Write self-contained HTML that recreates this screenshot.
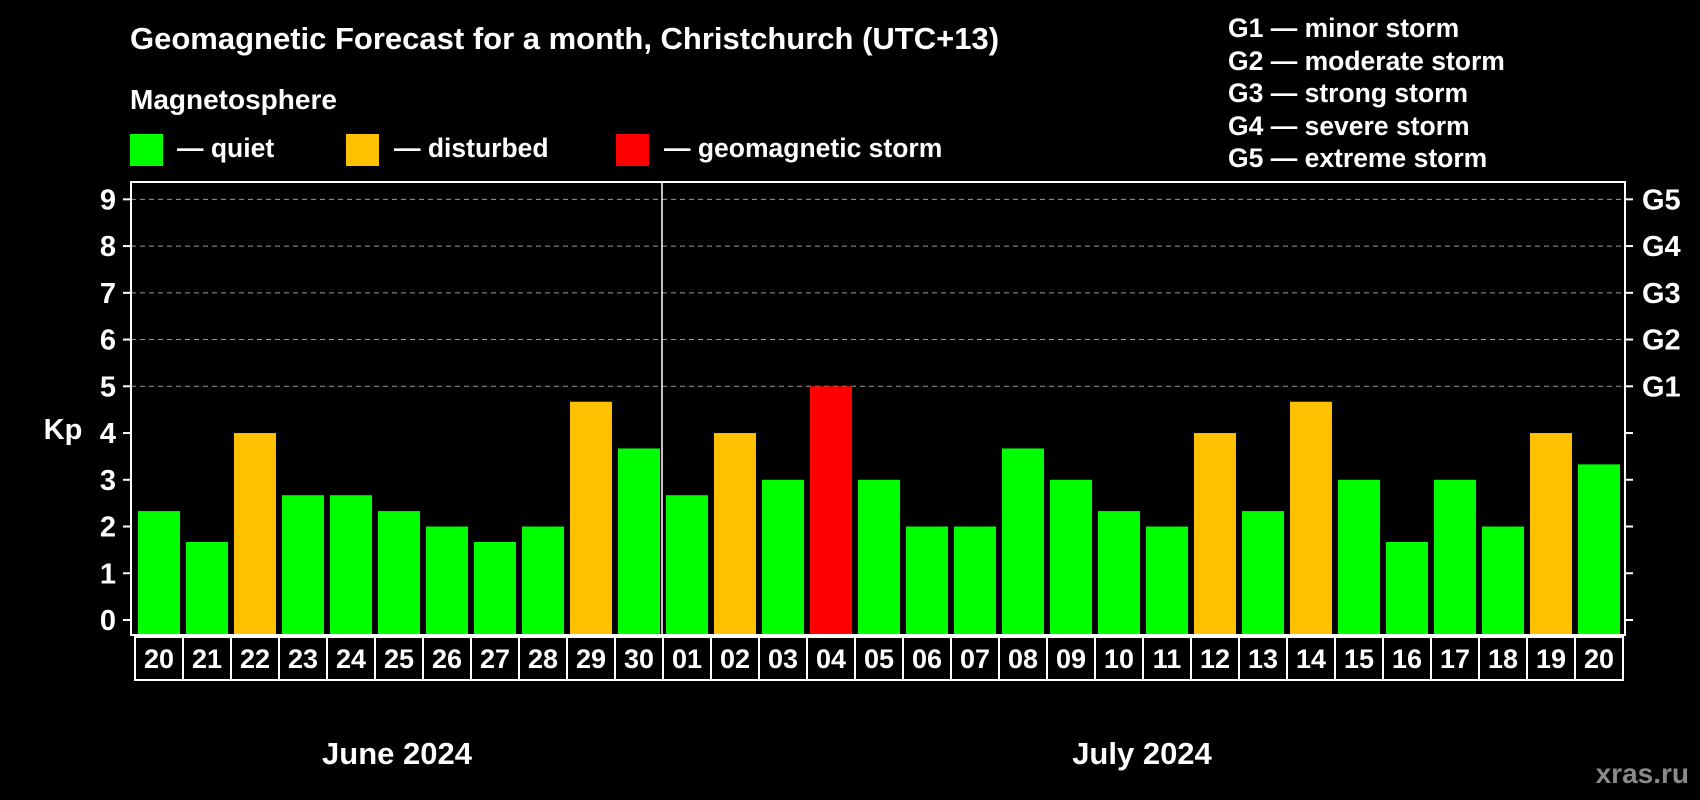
<!DOCTYPE html>
<html><head><meta charset="utf-8"><style>
html,body{margin:0;padding:0;background:#000;}
svg{display:block;font-family:"Liberation Sans",Arial,sans-serif;font-weight:bold;}
</style></head><body>
<svg id="c" width="1700" height="800" viewBox="0 0 1700 800">
<text x="130" y="49" fill="#fff" font-size="31">Geomagnetic Forecast for a month, Christchurch (UTC+13)</text>
<text x="130" y="109" fill="#fff" font-size="28">Magnetosphere</text>
<g>
<rect x="130" y="134" width="33" height="32" fill="#00ff00"/>
<text x="177" y="157" fill="#fff" font-size="26.5">— quiet</text>
<rect x="346" y="134" width="33" height="32" fill="#ffc000"/>
<text x="394" y="157" fill="#fff" font-size="26.5">— disturbed</text>
<rect x="616" y="134" width="33" height="32" fill="#ff0000"/>
<text x="664" y="157" fill="#fff" font-size="26.5">— geomagnetic storm</text>
</g>
<g fill="#fff" font-size="26.5">
<text x="1228" y="37">G1 — minor storm</text>
<text x="1228" y="70">G2 — moderate storm</text>
<text x="1228" y="102">G3 — strong storm</text>
<text x="1228" y="135">G4 — severe storm</text>
<text x="1228" y="167">G5 — extreme storm</text>
</g>
<text x="63" y="439" fill="#fff" font-size="29" text-anchor="middle">Kp</text>
<text x="397" y="764" fill="#fff" font-size="31" text-anchor="middle">June 2024</text>
<text x="1142" y="764" fill="#fff" font-size="31" text-anchor="middle">July 2024</text>
<text x="1689" y="783" fill="#8a8a8a" font-size="28" text-anchor="end">xras.ru</text>
<g id="plot"></g>
</svg>
<script>
const days=["20","21","22","23","24","25","26","27","28","29","30","01","02","03","04","05","06","07","08","09","10","11","12","13","14","15","16","17","18","19","20"];
const kp=[2.33,1.67,4,2.67,2.67,2.33,2,1.67,2,4.67,3.67,2.67,4,3,5,3,2,2,3.67,3,2.33,2,4,2.33,4.67,3,1.67,3,2,4,3.33];
const yTicks=[0,1,2,3,4,5,6,7,8,9];
const gLabels=["G1","G2","G3","G4","G5"];
const gLevels=[5,6,7,8,9];
const NS="http://www.w3.org/2000/svg";
const g=document.getElementById('plot');
const L=131,R=1625,T=182,B=635;
const y=v=>620-46.74*v;
const x=i=>134+48*i;
function mk(t,a){const e=document.createElementNS(NS,t);for(const k in a)e.setAttribute(k,a[k]);g.appendChild(e);return e;}
gLevels.forEach(v=>{const e=mk('line',{x1:L,x2:R,y1:y(v),y2:y(v),stroke:'#999','stroke-dasharray':'5,4','stroke-width':1});

});
kp.forEach((v,i)=>{const c=v>=5?'#ff0000':(v>=4?'#ffc000':'#00ff00');
const r=mk('rect',{x:x(i)+4,y:y(v),width:42,height:B-y(v),fill:c});


const b=mk('rect',{x:x(i)+1,y:637,width:48,height:43,fill:'none',stroke:'#fff','stroke-width':2});


const t=mk('text',{x:x(i)+25,y:668,fill:'#fff','font-size':27,'text-anchor':'middle'});t.textContent=days[i];

});
const sep=mk('line',{x1:x(11),x2:x(11),y1:T,y2:B,stroke:'#fff','stroke-width':1.5});


const fr=mk('rect',{x:L,y:T,width:R-L,height:B-T,fill:'none',stroke:'#fff','stroke-width':2});


yTicks.forEach(v=>{const a=mk('line',{x1:L-8,x2:L,y1:y(v),y2:y(v),stroke:'#fff','stroke-width':2});


const b=mk('line',{x1:R,x2:R+8,y1:y(v),y2:y(v),stroke:'#fff','stroke-width':2});


const t=mk('text',{x:116,y:y(v)+10,fill:'#fff','font-size':29,'text-anchor':'end'});t.textContent=v;

});
gLevels.forEach((v,i)=>{const t=mk('text',{x:1642,y:y(v)+10,fill:'#fff','font-size':29});t.textContent=gLabels[i];

});
</script>
</body></html>
